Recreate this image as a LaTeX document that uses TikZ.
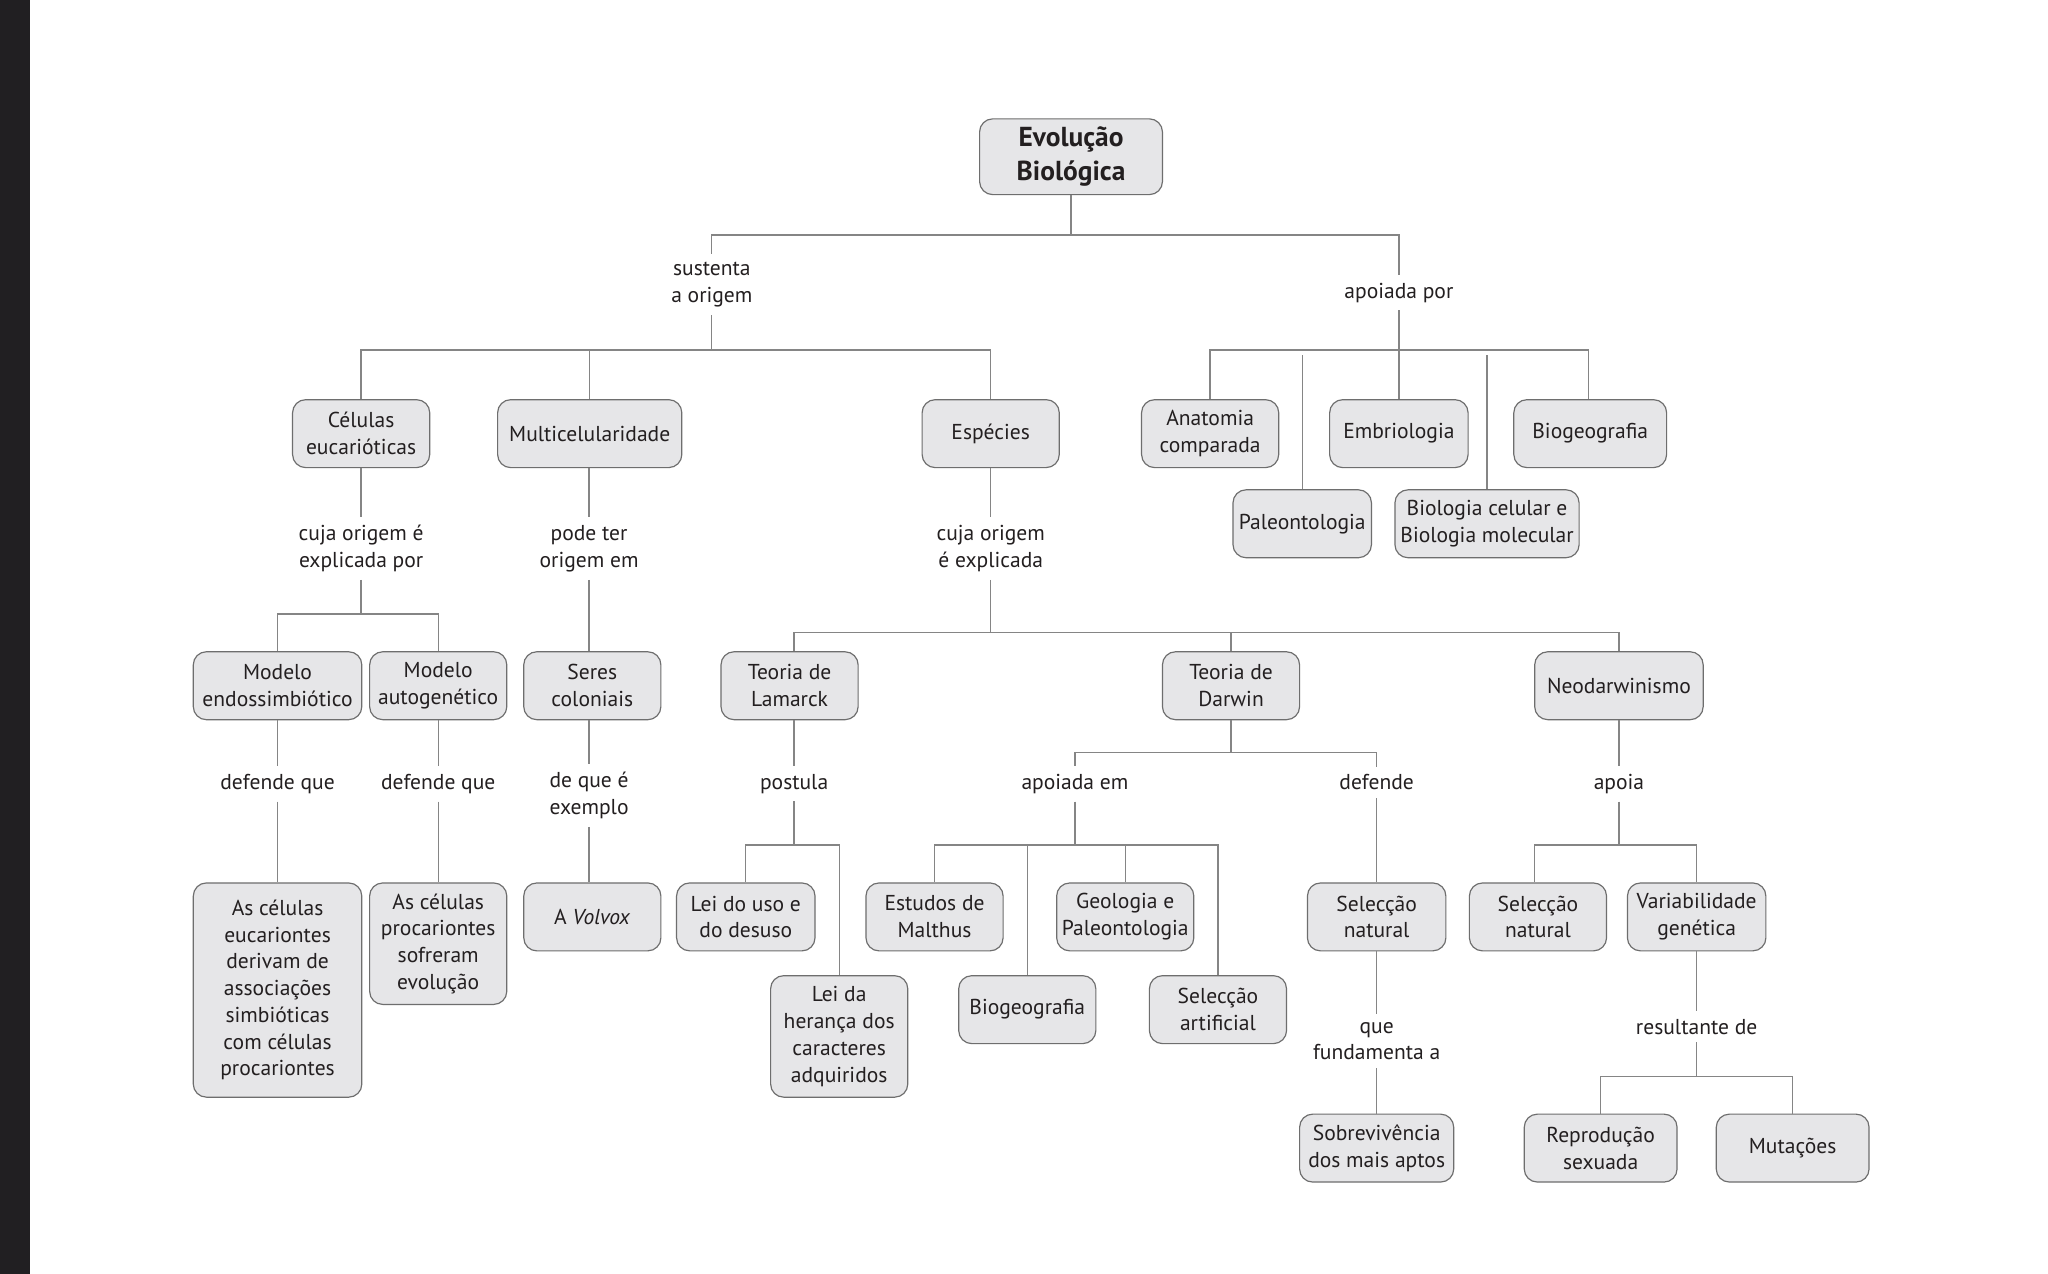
\documentclass[tikz,border=0pt]{standalone}
\usepackage{fontspec}
\setmainfont{PT Sans}
\definecolor{boxfill}{HTML}{E6E6E8}
\definecolor{boxdraw}{HTML}{6E6E6E}
\definecolor{linec}{HTML}{858585}
\definecolor{txt}{HTML}{231F20}
\definecolor{darkbar}{HTML}{211F22}
\newcommand\fsz{\fontsize{16.5}{20.5}\selectfont}
\newcommand\ftitle{\fontsize{21}{26}\selectfont\bfseries}
\tikzset{
  box/.style={draw=boxdraw, line width=0.9pt, fill=boxfill, rounded corners=10pt,
    align=center, inner sep=0pt, text=txt, font=\fsz},
  lbl/.style={align=center, inner xsep=2pt, inner ysep=6pt, text=txt, font=\fsz},
  conn/.style={draw=linec, line width=1pt},
}
\newcommand\bx[6]{\node[box, minimum width=#4pt, minimum height=#5pt] (#1) at (#2,#3) {#6};}
\begin{document}
\begin{tikzpicture}[x=1pt,y=-1pt]
\useasboundingbox (0,0) rectangle (1568,975.4);
\fill[white] (0,0) rectangle (1568,975.4);
\fill[darkbar] (0,0) rectangle (23,975.4);

% title
\node[box, minimum width=140pt, minimum height=58pt, font=\ftitle] (title) at (820,120) {Evolução\\Biológica};

% row 1
\bx{cel}{276.5}{332}{105}{52}{Células\\eucarióticas}
\bx{multi}{451.5}{332}{141}{52}{Multicelularidade}
\bx{esp}{758.5}{332}{105}{52}{Espécies}
\bx{anat}{926.5}{332}{105}{52}{Anatomia\\comparada}
\bx{embr}{1071}{332}{106}{52}{Embriologia}
\bx{biogA}{1217.5}{332}{117}{52}{Biogeografia}
\bx{paleo}{997}{401}{106}{52}{Paleontologia}
\bx{biocel}{1138.5}{401}{141}{52}{Biologia celular e\\Biologia molecular}

% row 2
\bx{endo}{212.5}{525}{129}{52}{Modelo\\endossimbiótico}
\bx{auto}{335.5}{525}{105}{52}{Modelo\\autogenético}
\bx{seres}{453.5}{525}{105}{52}{Seres\\coloniais}
\bx{lam}{604.5}{525}{105}{52}{Teoria de\\Lamarck}
\bx{darwin}{942.5}{525}{105}{52}{Teoria de\\Darwin}
\bx{neo}{1239.5}{525}{129}{52}{Neodarwinismo}

% row 3
\bx{eucar}{212.5}{758}{129}{164}{As células\\eucariontes\\derivam de\\associações\\simbióticas\\com células\\procariontes}
\bx{procar}{335.5}{722.5}{105}{93}{As células\\procariontes\\sofreram\\evolução}
\bx{volvox}{453.5}{702}{105}{52}{A \textit{Volvox}}
\bx{uso}{571}{702}{106}{52}{Lei do uso e\\do desuso}
\bx{heranca}{642.5}{793.5}{105}{93}{Lei da\\herança dos\\caracteres\\adquiridos}
\bx{malthus}{715.5}{702}{105}{52}{Estudos de\\Malthus}
\bx{biogB}{786.5}{773}{105}{52}{Biogeografia}
\bx{geol}{861.5}{702}{105}{52}{Geologia e\\Paleontologia}
\bx{artif}{932.5}{773}{105}{52}{Selecção\\artificial}
\bx{selA}{1054}{702}{106}{52}{Selecção\\natural}
\bx{selB}{1177.5}{702}{105}{52}{Selecção\\natural}
\bx{var}{1299}{702}{106}{52}{Variabilidade\\genética}

% row 4
\bx{sobrev}{1054}{879}{118}{52}{Sobrevivência\\dos mais aptos}
\bx{repro}{1225.5}{879}{117}{52}{Reprodução\\sexuada}
\bx{mut}{1372.5}{879}{117}{52}{Mutações}

% labels
\node[lbl] (sust) at (545,218) {sustenta\\a origem};
\node[lbl] (apor) at (1071,224) {apoiada por};
\node[lbl] (cujaA) at (276.5,420) {cuja origem é\\explicada por};
\node[lbl] (podeter) at (451,420) {pode ter\\origem em};
\node[lbl] (cujaB) at (758.5,420) {cuja origem\\é explicada};
\node[lbl] (defqA) at (212.5,600) {defende que};
\node[lbl] (defqB) at (335.5,600) {defende que};
\node[lbl] (dequee) at (451,609) {de que é\\exemplo};
\node[lbl] (postula) at (608,600) {postula};
\node[lbl] (apem) at (823,600) {apoiada em};
\node[lbl] (defende) at (1054,599) {defende};
\node[lbl] (apoia) at (1239.5,600) {apoia};
\node[lbl] (que) at (1054,797) {que\\fundamenta a};
\node[lbl] (result) at (1299,786) {resultante de};

% bus levels
\coordinate (b1) at (0,180);
\coordinate (b2) at (0,268);
\coordinate (b2g) at (0,272);
\coordinate (b3) at (0,470);
\coordinate (b4) at (0,484);
\coordinate (b5) at (0,576);
\coordinate (b6) at (0,647);
\coordinate (b7) at (0,824);

% connectors
\draw[conn] (title.south) -- (title.south |- b1) -| (sust.north);
\draw[conn] (title.south |- b1) -| (apor.north);

\draw[conn] (sust.south) -- (sust.south |- b2) -| (cel.north);
\draw[conn] (sust.south |- b2) -| (multi.north);
\draw[conn] (sust.south |- b2) -| (esp.north);

\draw[conn] (apor.south) -- (apor.south |- b2) -| (anat.north);
\draw[conn] (paleo.north |- b2g) -- (paleo.north);
\draw[conn] (apor.south |- b2) -| (embr.north);
\draw[conn] (biocel.north |- b2g) -- (biocel.north);
\draw[conn] (apor.south |- b2) -| ([xshift=-1.5pt]biogA.north);

\draw[conn] (cel.south) -- (cujaA.north);
\draw[conn] (cujaA.south) -- (cujaA.south |- b3) -| (endo.north);
\draw[conn] (cujaA.south |- b3) -| (auto.north);

\draw[conn] (podeter.north |- multi.south) -- (podeter.north);
\draw[conn] (podeter.south) -- (podeter.south |- seres.north);

\draw[conn] (esp.south) -- (cujaB.north);
\draw[conn] (cujaB.south) -- (cujaB.south |- b4) -| ([xshift=3.5pt]lam.north);
\draw[conn] (cujaB.south |- b4) -| (darwin.north);
\draw[conn] (cujaB.south |- b4) -| (neo.north);

\draw[conn] (endo.south) -- (defqA.north);
\draw[conn] (defqA.south) -- (eucar.north);
\draw[conn] (auto.south) -- (defqB.north);
\draw[conn] (defqB.south) -- (procar.north);
\draw[conn] (dequee.north |- seres.south) -- (dequee.north);
\draw[conn] (dequee.south) -- (dequee.south |- volvox.north);

\draw[conn] (postula.north |- lam.south) -- (postula.north);
\draw[conn] (postula.south) -- (postula.south |- b6) -| (uso.north);
\draw[conn] (postula.south |- b6) -| (heranca.north);

\draw[conn] (darwin.south) -- (darwin.south |- b5) -| (apem.north);
\draw[conn] (darwin.south |- b5) -| (defende.north);
\draw[conn] (apem.south) -- (apem.south |- b6) -| (malthus.north);
\draw[conn] (apem.south |- b6) -| (biogB.north);
\draw[conn] (apem.south |- b6) -| (geol.north);
\draw[conn] (apem.south |- b6) -| (artif.north);
\draw[conn] (defende.south) -- (selA.north);
\draw[conn] (selA.south) -- (que.north);
\draw[conn] (que.south) -- (sobrev.north);

\draw[conn] (neo.south) -- (apoia.north);
\draw[conn] (apoia.south) -- (apoia.south |- b6) -| ([xshift=-2.5pt]selB.north);
\draw[conn] (apoia.south |- b6) -| (var.north);
\draw[conn] (var.south) -- (result.north);
\draw[conn] (result.south) -- (result.south |- b7) -| (repro.north);
\draw[conn] (result.south |- b7) -| (mut.north);
\end{tikzpicture}
\end{document}
